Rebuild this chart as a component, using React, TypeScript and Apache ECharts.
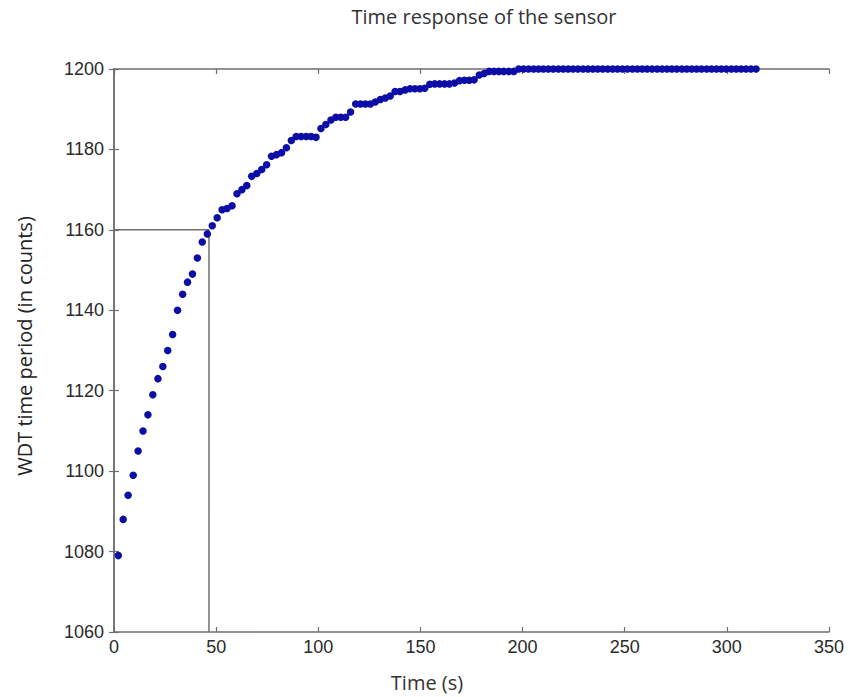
import React, { useEffect, useRef } from "react";
import * as echarts from "echarts";

const timeS = [
  2.1, 4.5, 6.9, 9.4, 11.8, 14.2, 16.6, 19.0, 21.5, 23.9,
  26.3, 28.7, 31.1, 33.6, 36.0, 38.4, 40.8, 43.2, 45.7, 48.1,
  50.5, 52.9, 55.3, 57.8, 60.2, 62.6, 65.0, 67.4, 69.9, 72.3,
  74.7, 77.1, 79.5, 82.0, 84.4, 86.8, 89.2, 91.6, 94.1, 96.5,
  98.9, 101.3, 103.7, 106.2, 108.6, 111.0, 113.4, 115.8, 118.3, 120.7,
  123.1, 125.5, 127.9, 130.4, 132.8, 135.2, 137.6, 140.0, 142.5, 144.9,
  147.3, 149.7, 152.1, 154.6, 157.0, 159.4, 161.8, 164.2, 166.7, 169.1,
  171.5, 173.9, 176.3, 178.8, 181.2, 183.6, 186.0, 188.4, 190.8, 193.3,
  195.7, 198.1, 200.5, 202.9, 205.4, 207.8, 210.2, 212.6, 215.0, 217.5,
  219.9, 222.3, 224.7, 227.1, 229.6, 232.0, 234.4, 236.8, 239.2, 241.7,
  244.1, 246.5, 248.9, 251.3, 253.8, 256.2, 258.6, 261.0, 263.4, 265.9,
  268.3, 270.7, 273.1, 275.5, 278.0, 280.4, 282.8, 285.2, 287.6, 290.1,
  292.5, 294.9, 297.3, 299.7, 302.2, 304.6, 307.0, 309.4, 311.8, 314.3,
];

const wdtCounts = [
  1079, 1088, 1094, 1099, 1105, 1110, 1114, 1119, 1123, 1126,
  1130, 1134, 1140, 1144, 1147, 1149, 1153, 1157, 1159, 1161,
  1163, 1165, 1165.3, 1166, 1169, 1170, 1171, 1173.3, 1174, 1175,
  1176.2, 1178.3, 1178.7, 1179.2, 1180.4, 1182.2, 1183.2, 1183.2, 1183.2, 1183.2,
  1183, 1185.2, 1186.2, 1187.3, 1188, 1188, 1188, 1189.3, 1191.3, 1191.3,
  1191.3, 1191.3, 1191.8, 1192.4, 1192.8, 1193.3, 1194.4, 1194.4, 1194.8, 1195.1,
  1195.1, 1195.1, 1195.2, 1196.2, 1196.3, 1196.3, 1196.3, 1196.3, 1196.5, 1197.1,
  1197.2, 1197.2, 1197.3, 1198.5, 1198.9, 1199.4, 1199.4, 1199.4, 1199.4, 1199.4,
  1199.4, 1200, 1200, 1200, 1200, 1200, 1200, 1200, 1200, 1200,
  1200, 1200, 1200, 1200, 1200, 1200, 1200, 1200, 1200, 1200,
  1200, 1200, 1200, 1200, 1200, 1200, 1200, 1200, 1200, 1200,
  1200, 1200, 1200, 1200, 1200, 1200, 1200, 1200, 1200, 1200,
  1200, 1200, 1200, 1200, 1200, 1200, 1200, 1200, 1200, 1200,
];

// reference guide: time constant marker
const guideX = 46.5;
const guideY = 1160;

const titleText = "Time response of the sensor";
const xTitle = "Time (s)";
const yTitle = "WDT time period (in counts)";

export default function App() {
  const ref = useRef<HTMLDivElement>(null);
  useEffect(() => {
    if (!ref.current) return;
    const chart = echarts.init(ref.current, null, { renderer: "svg" });
    const n = Math.min(timeS.length, wdtCounts.length);
    const pts: number[][] = [];
    for (let i = 0; i < n; i++) pts.push([timeS[i], wdtCounts[i]]);
    const axisColor = "#6e6e6e";
    const labelStyle = {
      color: "#2a2a2a",
      fontFamily: "Liberation Sans",
      fontSize: 18,
      formatter: (v: number) => String(v),
    };
    const baseAxis = {
      axisLine: { show: true, lineStyle: { color: axisColor, width: 1.5 } },
      axisTick: { show: true, inside: true, length: 5, lineStyle: { color: axisColor, width: 1.2 } },
      splitLine: { show: false },
    };
    chart.setOption({
      animation: false,
      backgroundColor: "#ffffff",
      grid: { left: 114, top: 69, right: 21, bottom: 65, containLabel: false },
      xAxis: [
        {
          type: "value",
          min: 0,
          max: 350,
          interval: 50,
          position: "bottom",
          ...baseAxis,
          axisLabel: { ...labelStyle, margin: 6 },
        },
        {
          type: "value",
          min: 0,
          max: 350,
          interval: 50,
          position: "top",
          ...baseAxis,
          axisLabel: { show: false },
        },
      ],
      yAxis: [
        {
          type: "value",
          min: 1060,
          max: 1200,
          interval: 20,
          position: "left",
          ...baseAxis,
          axisLabel: { ...labelStyle, margin: 10 },
        },
        {
          type: "value",
          min: 1060,
          max: 1200,
          interval: 20,
          position: "right",
          ...baseAxis,
          axisLabel: { show: false },
        },
      ],
      series: [
        {
          type: "line",
          data: [
            [0, guideY],
            [guideX, guideY],
            [guideX, 1060],
          ],
          showSymbol: false,
          symbol: "none",
          lineStyle: { color: "#707070", width: 1.5 },
          silent: true,
          z: 1,
        },
        {
          type: "scatter",
          data: pts,
          symbol: "circle",
          symbolSize: 7.5,
          itemStyle: { color: "#0c0ca6", opacity: 1 },
          z: 3,
        },
      ],
      graphic: [
        {
          type: "text",
          x: 484,
          y: 16,
          style: {
            text: titleText,
            fill: "#333",
            font: "20px 'Open Sans'",
            textAlign: "center",
            textVerticalAlign: "middle",
          },
        },
        {
          type: "text",
          x: 427,
          y: 682,
          style: {
            text: xTitle,
            fill: "#333",
            font: "20px 'Open Sans'",
            textAlign: "center",
            textVerticalAlign: "middle",
          },
        },
        {
          type: "text",
          x: 24,
          y: 346,
          rotation: Math.PI / 2,
          style: {
            text: yTitle,
            fill: "#222",
            font: "20px 'Open Sans'",
            textAlign: "center",
            textVerticalAlign: "middle",
          },
        },
      ],
    });
    return () => chart.dispose();
  }, []);
  return (
    <div
      ref={ref}
      style={{ position: "absolute", left: 0, top: 0, width: 850, height: 697 }}
    />
  );
}
